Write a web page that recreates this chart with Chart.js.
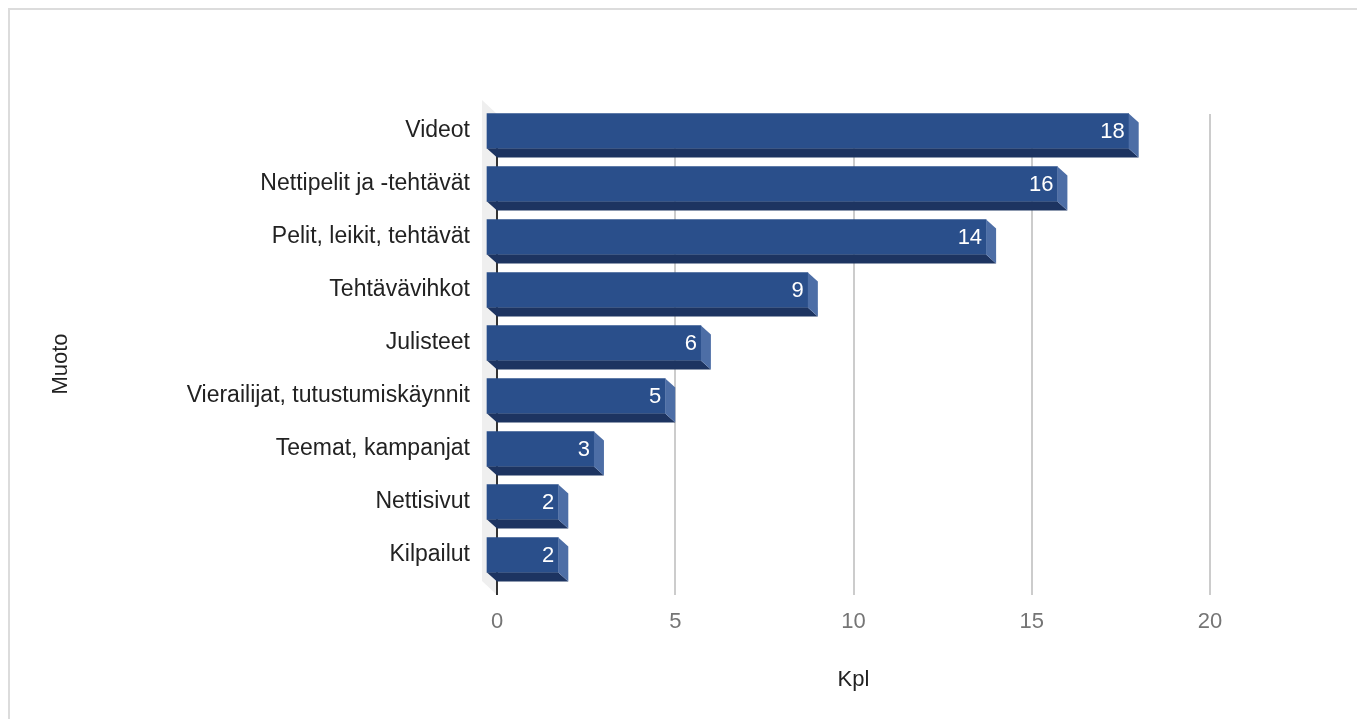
<!DOCTYPE html>
<html>
<head>
<meta charset="utf-8">
<script src="https://cdn.jsdelivr.net/npm/chart.js@4"></script>
<style>
  body { margin: 0; background: #fff; }
  #frame { position: absolute; left: 8px; top: 8px; width: 1360px; height: 720px; border: 2px solid #dcdcdc; }
  #chart { position: absolute; left: 0; top: 0; }
</style>
</head>
<body>
<div id="frame"></div>
<canvas id="chart" width="1357" height="719"></canvas>
<script>
// ==================== Data ====================
const categories = [
  'Videot',
  'Nettipelit ja -tehtävät',
  'Pelit, leikit, tehtävät',
  'Tehtävävihkot',
  'Julisteet',
  'Vierailijat, tutustumiskäynnit',
  'Teemat, kampanjat',
  'Nettisivut',
  'Kilpailut'
];
const counts = [18, 16, 14, 9, 6, 5, 3, 2, 2];
const xTicks = [0, 5, 10, 15, 20];
const yTitle = 'Muoto';
const xTitle = 'Kpl';

// ==================== Style ====================
const FONT = "'Liberation Sans', Arial, sans-serif";
const DX = 10, DY = 9;   // 3D depth
const FRONT = '#2a4f8b';
const BOTTOM = '#1d3461';
const SIDE = '#4d6ea6';

function poly(ctx, pts, color) {
  ctx.beginPath();
  ctx.moveTo(pts[0][0], pts[0][1]);
  pts.slice(1).forEach(p => ctx.lineTo(p[0], p[1]));
  ctx.closePath();
  ctx.fillStyle = color;
  ctx.fill();
}

// ==================== 3D plugin ====================
const bar3d = {
  id: 'bar3d',
  beforeDatasetsDraw(chart) {
    const { ctx, chartArea: a, scales: { x } } = chart;
    const zero = x.getPixelForValue(0);
    const gTop = a.top + DY + 0.5, gBot = a.bottom + DY + 4.5;
    ctx.save();
    // left wall
    poly(ctx, [[zero - DX - 5, gTop - DY - 5], [zero, gTop], [zero, gBot], [zero - DX - 5, gBot - DY - 5]], '#efefef');
    // grid
    ctx.strokeStyle = '#cccccc';
    ctx.lineWidth = 2;
    xTicks.slice(1).forEach(v => {
      const px = Math.round(x.getPixelForValue(v));
      ctx.beginPath(); ctx.moveTo(px, gTop); ctx.lineTo(px, gBot); ctx.stroke();
    });
    // zero line
    ctx.strokeStyle = '#333333';
    ctx.lineWidth = 2;
    ctx.beginPath(); ctx.moveTo(zero, gTop); ctx.lineTo(zero, gBot); ctx.stroke();
    // y title (sits a bit below the axis centre in the original)
    ctx.translate(61, 364);
    ctx.rotate(-Math.PI / 2);
    ctx.fillStyle = '#222';
    ctx.font = '22px ' + FONT;
    ctx.textAlign = 'center';
    ctx.textBaseline = 'middle';
    ctx.fillText(yTitle, 0, 0);
    ctx.restore();
  },
  beforeDatasetDraw(chart) {
    chart.ctx.save();
    chart.ctx.translate(-DX, 0);
  },
  afterDatasetDraw(chart, args) {
    const ctx = chart.ctx;
    ctx.restore();
    ctx.save();
    args.meta.data.forEach((el, i) => {
      const h = el.height;
      const x0 = el.base - DX, x1 = el.x - DX;
      const y0 = el.y - h / 2, y1 = el.y + h / 2;
      poly(ctx, [[x0, y1], [x1, y1], [x1 + DX, y1 + DY], [x0 + DX, y1 + DY]], BOTTOM);
      poly(ctx, [[x1, y0], [x1 + DX, y0 + DY], [x1 + DX, y1 + DY], [x1, y1]], SIDE);
      ctx.fillStyle = '#ffffff';
      ctx.font = '22px ' + FONT;
      ctx.textAlign = 'right';
      ctx.textBaseline = 'middle';
      ctx.fillText(String(counts[i]), x1 - 4, el.y + 1);
    });
    ctx.restore();
  }
};

// ==================== Chart ====================
new Chart(document.getElementById('chart'), {
  type: 'bar',
  data: {
    labels: categories,
    datasets: [{
      data: counts,
      backgroundColor: FRONT,
      borderWidth: 0,
      barThickness: 35,
      clip: false
    }]
  },
  options: {
    indexAxis: 'y',
    responsive: false,
    animation: false,
    layout: { padding: { top: 104.5, left: 20, right: 147, bottom: 10 } },
    plugins: { legend: { display: false }, tooltip: { enabled: false } },
    scales: {
      x: {
        min: 0, max: 20,
        afterBuildTicks: s => { s.ticks = xTicks.map(v => ({ value: v })); },
        grid: { display: false },
        border: { display: false },
        ticks: { color: '#757575', font: { size: 22, family: FONT }, padding: 19 },
        title: { display: true, text: xTitle, color: '#222', font: { size: 22, family: FONT }, padding: { bottom: 16 } },
        afterFit: s => { s.height = 127.5; }
      },
      y: {
        grid: { display: false },
        border: { display: false },
        ticks: { color: '#222', font: { size: 23, family: FONT }, padding: 19 },
        afterFit: s => { s.width = 477; }
      }
    }
  },
  plugins: [bar3d]
});
</script>
</body>
</html>
